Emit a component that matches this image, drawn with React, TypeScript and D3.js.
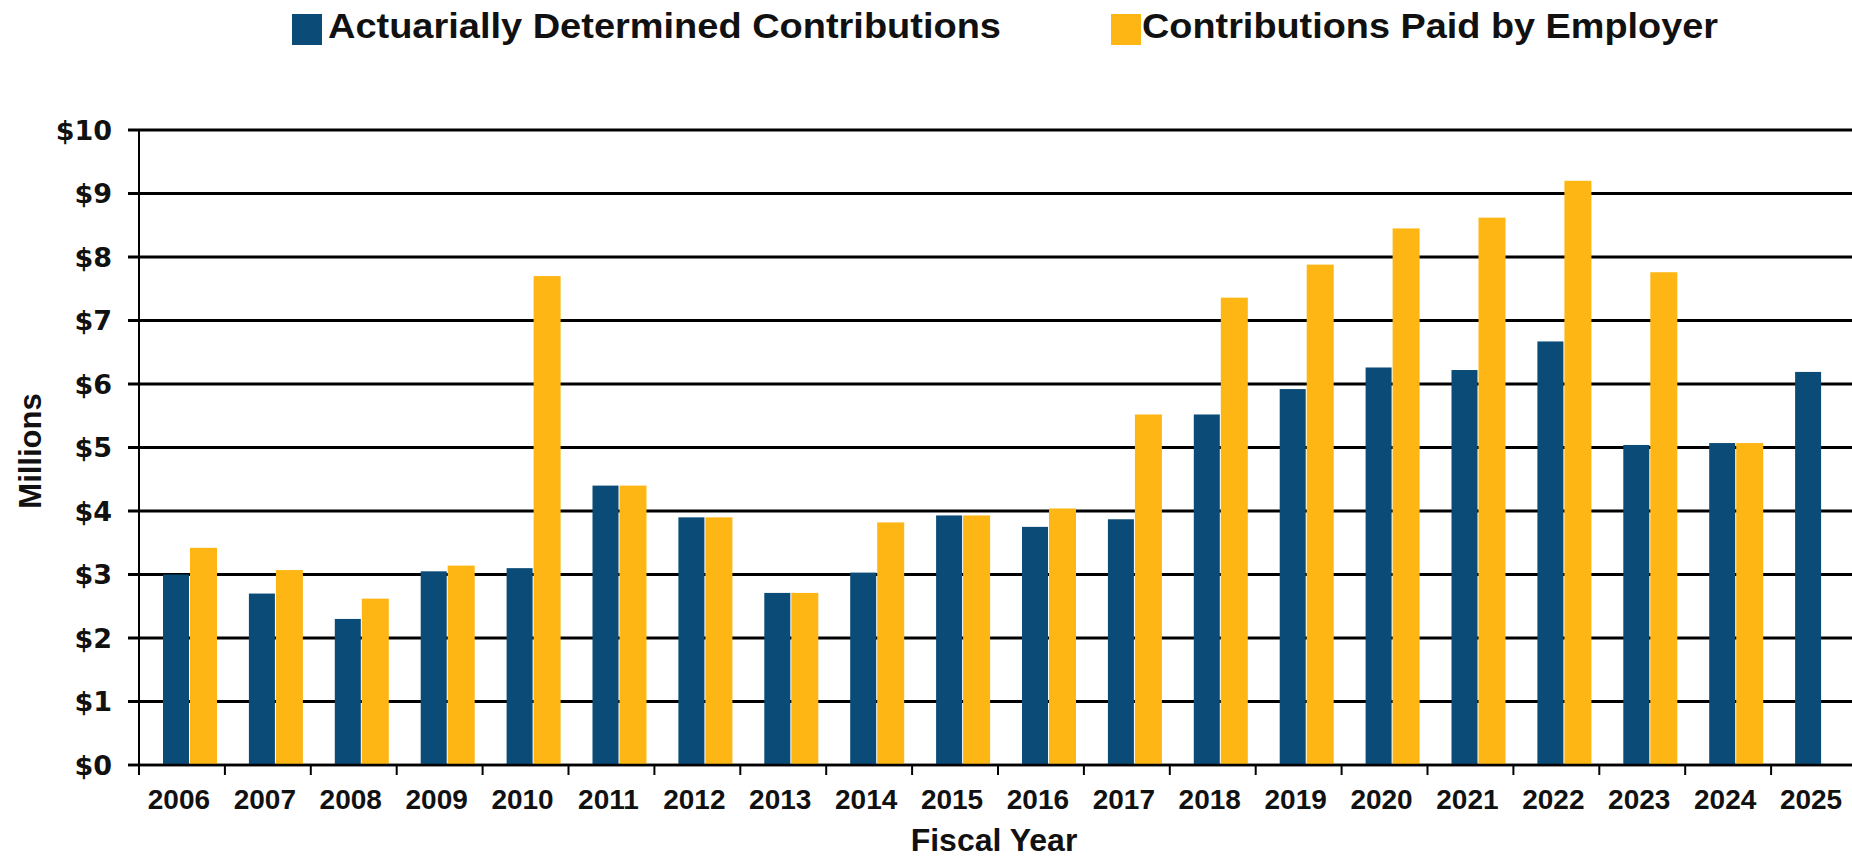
import * as React from "react";
import * as d3 from "d3";

const years = ["2006", "2007", "2008", "2009", "2010", "2011", "2012", "2013", "2014", "2015",
  "2016", "2017", "2018", "2019", "2020", "2021", "2022", "2023", "2024", "2025"];
const determined = [3.0, 2.7, 2.3, 3.05, 3.1, 4.4, 3.9, 2.71, 3.03, 3.93,
  3.75, 3.87, 5.52, 5.92, 6.26, 6.22, 6.67, 5.04, 5.07, 6.19];
const paid = [3.42, 3.07, 2.62, 3.14, 7.7, 4.4, 3.9, 2.71, 3.82, 3.93,
  4.04, 5.52, 7.36, 7.88, 8.45, 8.62, 9.2, 7.76, 5.07, null];
const seriesNames = ["Actuarially Determined Contributions", "Contributions Paid by Employer"];
const colors = ["#0B4B78", "#FDB614"];
const yTicks = [0, 1, 2, 3, 4, 5, 6, 7, 8, 9, 10];

function drawChart(svgRef) {
  const width = 1852;
  const height = 859;
  const left = 139;
  const bandW = 85.9;
  const top = 130;
  const bottom = 765;

  const svg = d3.select(svgRef.current).attr("width", width).attr("height", height);
  svg.selectAll("*").remove();

  const x = d3.scaleBand().domain(years).range([left, left + bandW * years.length]).padding(0);
  const x1 = d3.scaleBand().domain(seriesNames).range([24, 78]).padding(0);
  const y = d3.scaleLinear().domain([0, 10]).range([bottom, top]);

  // gridlines
  svg.append("g")
    .selectAll("line")
    .data(yTicks)
    .enter()
    .append("line")
    .attr("x1", left - 11)
    .attr("x2", width)
    .attr("y1", (d) => y(d))
    .attr("y2", (d) => y(d))
    .attr("stroke", "#000")
    .attr("stroke-width", (d) => (d === 0 ? 2.5 : 3));

  // bars
  const series = [determined, paid];
  series.forEach((vals, si) => {
    svg.append("g")
      .selectAll("rect")
      .data(years.map((yr, i) => ({ yr, v: vals[i] })).filter((d) => d.v != null))
      .enter()
      .append("rect")
      .attr("x", (d) => x(d.yr) + x1(seriesNames[si]))
      .attr("width", x1.bandwidth() - (si === 0 ? 1 : 0))
      .attr("y", (d) => y(d.v))
      .attr("height", (d) => bottom - y(d.v))
      .attr("fill", colors[si]);
  });

  // baseline on top of bars
  svg.append("line")
    .attr("x1", left - 11)
    .attr("x2", width)
    .attr("y1", bottom)
    .attr("y2", bottom)
    .attr("stroke", "#000")
    .attr("stroke-width", 2.5);

  // y axis line
  svg.append("line")
    .attr("x1", left)
    .attr("x2", left)
    .attr("y1", top)
    .attr("y2", bottom + 10)
    .attr("stroke", "#000")
    .attr("stroke-width", 2);

  // x ticks
  svg.append("g")
    .selectAll("line")
    .data(years.slice(1))
    .enter()
    .append("line")
    .attr("x1", (d) => x(d))
    .attr("x2", (d) => x(d))
    .attr("y1", bottom)
    .attr("y2", bottom + 10)
    .attr("stroke", "#000")
    .attr("stroke-width", 2);

  // y labels
  svg.append("g")
    .selectAll("text")
    .data(yTicks)
    .enter()
    .append("text")
    .text((d) => `$${d}`)
    .attr("x", 112)
    .attr("y", (d) => y(d))
    .attr("dy", "0.36em")
    .attr("text-anchor", "end")
    .attr("font-family", "'DejaVu Sans', sans-serif")
    .attr("font-weight", "bold")
    .attr("font-size", 27)
    .attr("fill", "#111");

  // x labels
  svg.append("g")
    .selectAll("text")
    .data(years)
    .enter()
    .append("text")
    .text((d) => d)
    .attr("x", (d) => x(d) + x.bandwidth() / 2 - 3)
    .attr("y", 809)
    .attr("text-anchor", "middle")
    .attr("font-family", "'Liberation Sans', Arial, sans-serif")
    .attr("font-weight", "bold")
    .attr("font-size", 28)
    .attr("fill", "#111");

  // axis titles
  svg.append("text")
    .text("Fiscal Year")
    .attr("x", 994)
    .attr("y", 851)
    .attr("text-anchor", "middle")
    .attr("font-family", "'Liberation Sans', Arial, sans-serif")
    .attr("font-weight", "bold")
    .attr("font-size", 32)
    .attr("fill", "#111");

  svg.append("text")
    .text("Millions")
    .attr("transform", "translate(41, 451) rotate(-90)")
    .attr("text-anchor", "middle")
    .attr("font-family", "'Liberation Sans', Arial, sans-serif")
    .attr("font-weight", "bold")
    .attr("font-size", 31)
    .attr("fill", "#111");

  // legend
  const legend = [
    { name: seriesNames[0], color: colors[0], sx: 292, tx: 328, tw: 673 },
    { name: seriesNames[1], color: colors[1], sx: 1111, tx: 1142, tw: 576 },
  ];
  const lg = svg.append("g");
  lg.selectAll("rect")
    .data(legend)
    .enter()
    .append("rect")
    .attr("x", (d) => d.sx)
    .attr("y", 14)
    .attr("width", 30)
    .attr("height", 31)
    .attr("fill", (d) => d.color);
  lg.selectAll("text")
    .data(legend)
    .enter()
    .append("text")
    .text((d) => d.name)
    .attr("x", (d) => d.tx)
    .attr("y", 38)
    .attr("textLength", (d) => d.tw)
    .attr("lengthAdjust", "spacingAndGlyphs")
    .attr("font-family", "'Liberation Sans', Arial, sans-serif")
    .attr("font-weight", "bold")
    .attr("font-size", 35)
    .attr("fill", "#111");
}

const App = () => {
  const svgRef = React.useRef(null);

  React.useEffect(() => {
    drawChart(svgRef);
  }, [svgRef]);

  return (
    <div id="chart" style={{ position: "absolute", left: 0, top: 0, background: "#fff" }}>
      <svg ref={svgRef} style={{ display: "block" }} />
    </div>
  );
};

export default App;
